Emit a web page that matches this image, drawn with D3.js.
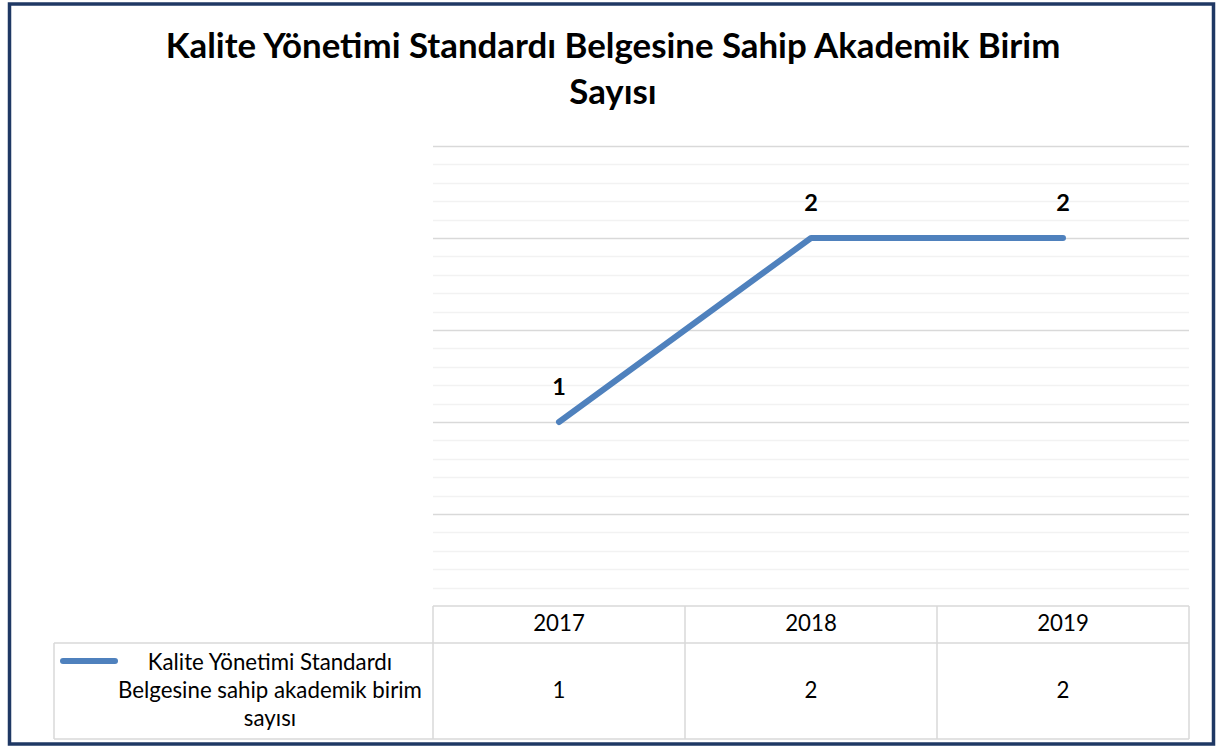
<!DOCTYPE html>
<html><head><meta charset="utf-8">
<script src="https://cdnjs.cloudflare.com/ajax/libs/d3/7.8.5/d3.min.js"></script>
<style>html,body{margin:0;padding:0;background:#fff;}svg{display:block;}</style>
</head><body>
<script>
const categories = ["2017", "2018", "2019"];
const values = [1, 2, 2];
const seriesName = "Kalite Yönetimi Standardı Belgesine sahip akademik birim sayısı";
const legendLines = ["Kalite Yönetimi Standardı", "Belgesine sahip akademik birim", "sayısı"];
const titleLines = ["Kalite Yönetimi Standardı Belgesine Sahip Akademik Birim", "Sayısı"];
const yMax = 2.5, minorStep = 0.1, majorStep = 0.5;

const W = 1219, H = 753;
const font = "Lato, 'Open Sans', sans-serif";
const svg = d3.select("body").append("svg").attr("width", W).attr("height", H);
svg.append("rect").attr("width", W).attr("height", H).attr("fill", "#fff");
svg.append("rect").attr("x", 9.5).attr("y", 4).attr("width", 1204).attr("height", 740)
  .attr("fill", "none").attr("stroke", "#1F3864").attr("stroke-width", 3.5);

function fit(sel, target) {
  const n = sel.node(); const fs = parseFloat(sel.attr("font-size"));
  const w = n.getComputedTextLength();
  sel.attr("font-size", fs * target / w);
}

// Title
const t1 = svg.append("text").attr("x", 613).attr("y", 58).attr("text-anchor", "middle")
  .attr("font-family", font).attr("font-weight", "bold").attr("font-size", 28).attr("fill", "#000").text(titleLines[0]);
fit(t1, 895);
svg.append("text").attr("x", 613).attr("y", 104).attr("text-anchor", "middle")
  .attr("font-family", font).attr("font-weight", "bold").attr("font-size", t1.attr("font-size")).attr("fill", "#000").text(titleLines[1]);

const x = d3.scaleBand().domain(categories).range([433, 1189]);
const y = d3.scaleLinear().domain([0, yMax]).range([606, 146]);

// gridlines
const ticks = d3.range(0, yMax + 1e-9, minorStep);
const isMajor = d => Math.abs(d / majorStep - Math.round(d / majorStep)) < 1e-6;
svg.append("g").selectAll("line").data(ticks.filter(v => v > 0.001)).join("line")
  .attr("x1", 433).attr("x2", 1189)
  .attr("y1", d => Math.round(y(d)) + 0.5).attr("y2", d => Math.round(y(d)) + 0.5)
  .attr("stroke", d => isMajor(d) ? "#d9d9d9" : "#f2f2f2")
  .attr("stroke-width", 1.5);

// line
const line = d3.line().x((d, i) => x(categories[i]) + x.bandwidth() / 2).y(d => y(d));
svg.append("path").datum(values).attr("d", line).attr("fill", "none")
  .attr("stroke", "#4F81BD").attr("stroke-width", 6).attr("stroke-linecap", "round").attr("stroke-linejoin", "round");

// data labels
svg.append("g").selectAll("text").data(values).join("text")
  .attr("x", (d, i) => x(categories[i]) + x.bandwidth() / 2)
  .attr("y", d => y(d) - 27)
  .attr("text-anchor", "middle").attr("font-family", font).attr("font-weight", "bold")
  .attr("font-size", 23.5).attr("fill", "#000").text(d => d);

// data table
const tbl = svg.append("g").attr("stroke", "#d9d9d9").attr("stroke-width", 1.5).attr("fill", "none");
const rowTop = 606, rowMid = 643, rowBot = 739, legLeft = 54;
tbl.append("line").attr("x1", 433).attr("x2", 1189).attr("y1", rowTop).attr("y2", rowTop);
tbl.append("line").attr("x1", legLeft).attr("x2", 1189).attr("y1", rowMid).attr("y2", rowMid);
tbl.append("line").attr("x1", legLeft).attr("x2", 1189).attr("y1", rowBot).attr("y2", rowBot);
tbl.append("line").attr("x1", legLeft).attr("x2", legLeft).attr("y1", rowMid).attr("y2", rowBot);
tbl.selectAll("line.v").data(categories).join("line").attr("class", "v")
  .attr("x1", d => x(d)).attr("x2", d => x(d)).attr("y1", rowTop).attr("y2", rowBot);
tbl.append("line").attr("x1", 1189).attr("x2", 1189).attr("y1", rowTop).attr("y2", rowBot);

// legend
svg.append("line").attr("x1", 63).attr("x2", 115).attr("y1", 661).attr("y2", 661)
  .attr("stroke", "#4F81BD").attr("stroke-width", 6).attr("stroke-linecap", "round");
const lg = svg.append("g").selectAll("text").data(legendLines).join("text")
  .attr("x", 270).attr("y", (d, i) => 670 + i * 28).attr("text-anchor", "middle")
  .attr("font-family", font).attr("font-size", 19).attr("fill", "#000").text(d => d);
const l2 = d3.select(lg.nodes()[1]);
fit(l2, 304);
const tfs = l2.attr("font-size");
lg.attr("font-size", tfs);

svg.append("g").selectAll("text").data(categories).join("text")
  .attr("x", d => x(d) + x.bandwidth() / 2).attr("y", 631).attr("text-anchor", "middle")
  .attr("font-family", font).attr("font-size", tfs).attr("fill", "#000").text(d => d);
svg.append("g").selectAll("text").data(values).join("text")
  .attr("x", (d, i) => x(categories[i]) + x.bandwidth() / 2).attr("y", 698).attr("text-anchor", "middle")
  .attr("font-family", font).attr("font-size", tfs).attr("fill", "#000").text(d => d);
</script>
</body></html>
